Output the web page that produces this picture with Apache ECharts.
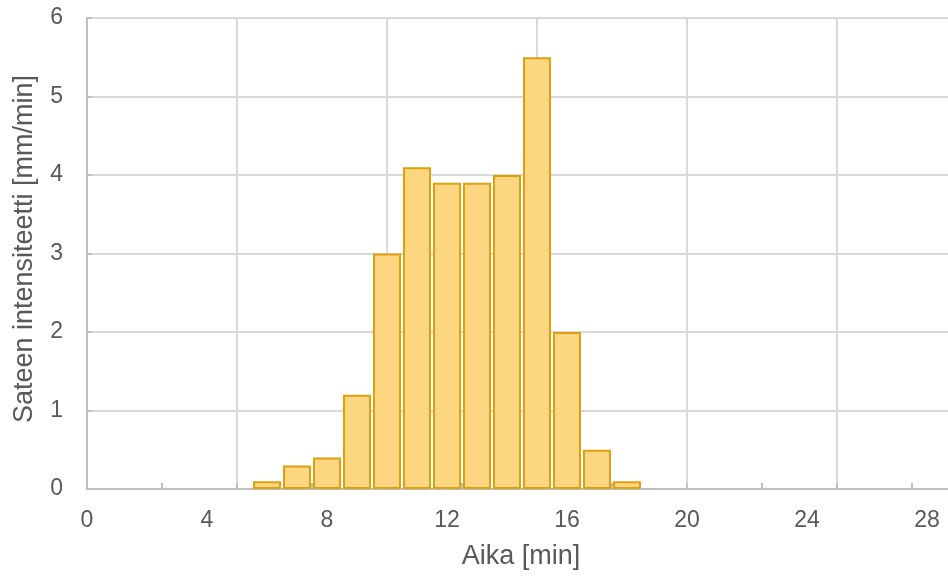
<!DOCTYPE html>
<html>
<head>
<meta charset="utf-8">
<script src="https://cdn.jsdelivr.net/npm/echarts@6/dist/echarts.min.js"></script>
<style>
  html, body { margin: 0; padding: 0; background: #fff; }
  #chart { width: 948px; height: 577px; }
</style>
</head>
<body>
<div id="chart"></div>
<script>
// rain intensity per minute
var minutes = [6, 7, 8, 9, 10, 11, 12, 13, 14, 15, 16, 17, 18];
var intensity = [0.1, 0.3, 0.4, 1.2, 3.0, 4.1, 3.9, 3.9, 4.0, 5.5, 2.0, 0.5, 0.1];
var xTitle = 'Aika [min]';
var yTitle = 'Sateen intensiteetti [mm/min]';

var font = 'Arial, "Liberation Sans", sans-serif';
var textColor = '#595959';
var axisGray = '#bfbfbf';
var gridGray = '#d9d9d9';

var points = [];
for (var i = 0; i < minutes.length; i++) {
  points.push([minutes[i], intensity[i]]);
}

var chart = echarts.init(document.getElementById('chart'));
chart.setOption({
  animation: false,
  // plot runs past the right edge so the last gridline gets cut off like in the original
  grid: { left: 87, right: -39, top: 18, bottom: 88, containLabel: false, outerBoundsMode: 'none' },
  graphic: [
    {
      type: 'text', x: 521, y: 557,
      style: { text: xTitle, font: '27px ' + font, fill: textColor, textAlign: 'center', textVerticalAlign: 'middle' }
    },
    {
      type: 'text', x: 25, y: 249, rotation: Math.PI / 2,
      style: { text: yTitle, font: '27px ' + font, fill: textColor, textAlign: 'center', textVerticalAlign: 'middle' }
    }
  ],
  xAxis: [
    {
      type: 'value', position: 'bottom', min: 0, max: 30, interval: 4,
      axisLine: { show: true, lineStyle: { color: axisGray, width: 2 } },
      axisTick: { show: false },
      splitLine: { show: false },
      axisLabel: {
        fontFamily: font, fontSize: 23, color: textColor, margin: 20,
        formatter: function (v) { return v % 4 === 0 ? v : ''; }
      }
    },
    {
      type: 'value', position: 'bottom', min: 0, max: 30, interval: 5,
      axisLine: { show: false }, axisTick: { show: false }, axisLabel: { show: false },
      splitLine: { show: true, lineStyle: { color: gridGray, width: 2 } }
    },
    {
      type: 'value', position: 'bottom', min: 0, max: 30, interval: 2.5,
      axisLine: { show: false }, axisLabel: { show: false }, splitLine: { show: false },
      axisTick: { show: true, inside: true, length: 6, lineStyle: { color: axisGray, width: 2 } }
    }
  ],
  yAxis: {
    type: 'value', min: 0, max: 6, interval: 1,
    axisLine: { show: true, lineStyle: { color: axisGray, width: 2 } },
    axisTick: { show: true, inside: true, length: 5, lineStyle: { color: axisGray, width: 2 } },
    splitLine: { show: true, lineStyle: { color: gridGray, width: 2 } },
    axisLabel: { fontFamily: font, fontSize: 23, color: textColor, margin: 24 }
  },
  series: [{
    type: 'bar',
    xAxisIndex: 0,
    data: points,
    barWidth: 28,
    itemStyle: { color: '#fdd681', borderColor: '#e0a00c', borderWidth: 2 }
  }]
});
</script>
</body>
</html>
